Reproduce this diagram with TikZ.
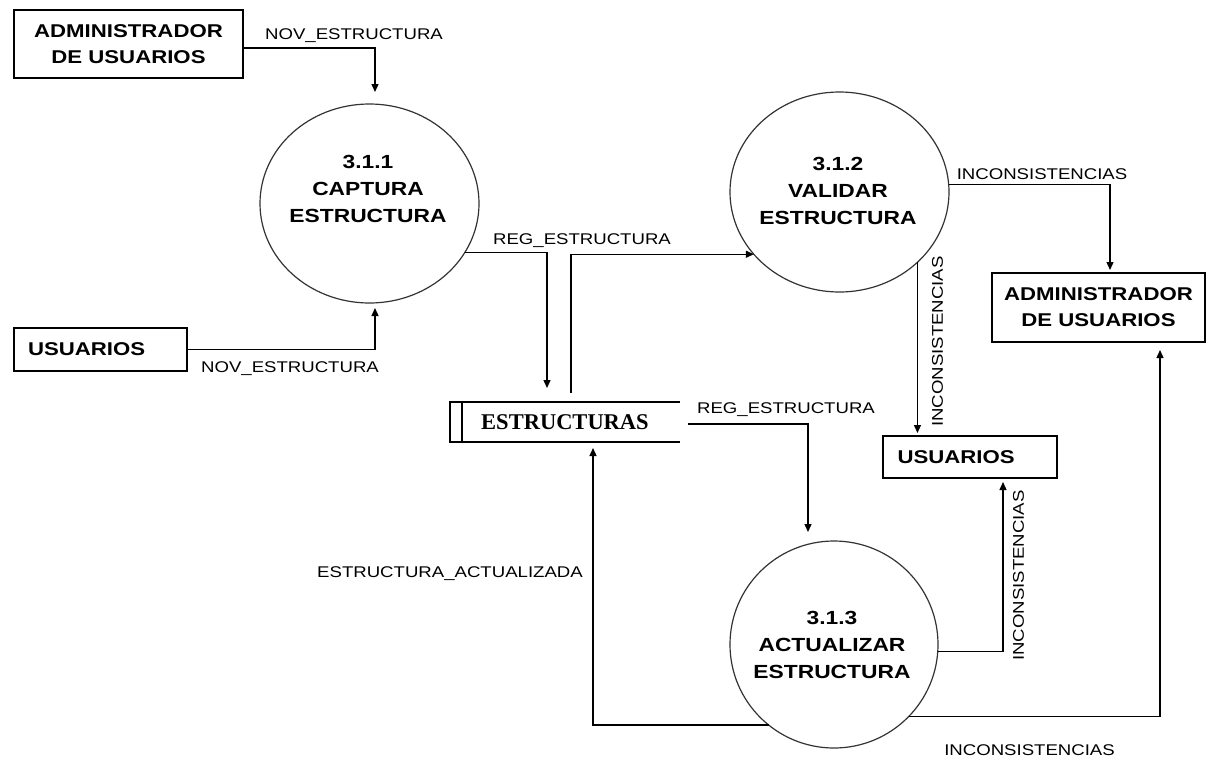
\documentclass[tikz,border=0pt]{standalone}
\usepackage{fontspec}
\setmainfont{Liberation Sans}
\newfontfamily\lblfont[FakeStretch=1.2]{Liberation Sans}
\newfontfamily\storefont{Liberation Serif}
\usetikzlibrary{shapes.geometric,arrows.meta}
\begin{document}
\begin{tikzpicture}[x=1pt,y=-1pt,
  entity/.style={draw, line width=1.4pt, rectangle, inner sep=0pt, outer sep=0pt,
    font=\lblfont\bfseries\fontsize{18.5}{26}\selectfont, align=center},
  proc/.style={draw=black!80, line width=1.2pt, ellipse, inner sep=0pt, outer sep=0pt},
  ptext/.style={font=\lblfont\bfseries\fontsize{19}{27}\selectfont, align=center, inner sep=0pt},
  flow/.style={line width=1.3pt, -{Triangle[length=8pt,width=7pt]}},
  lbl/.style={font=\lblfont\fontsize{15.5}{18}\selectfont, inner sep=0pt, anchor=base}]
\fill[white] (0,0) rectangle (1207,761);
\useasboundingbox (0,0) rectangle (1207,761);

% external entities
\node[entity, minimum width=229pt, minimum height=68pt] (adm1) at (128.5,44) {ADMINISTRADOR\\DE USUARIOS};
\node[entity, minimum width=173pt, minimum height=43pt, text width=145pt, align=left] (usr1) at (100.5,349.5) {USUARIOS};
\node[entity, minimum width=213pt, minimum height=69pt] (adm2) at (1098.5,307.5) {ADMINISTRADOR\\DE USUARIOS};
\node[entity, minimum width=174pt, minimum height=42pt, text width=145pt, align=left] (usr2) at (970,457) {USUARIOS};

% data store
\node[inner sep=0pt, outer sep=0pt, minimum width=230pt, minimum height=40pt,
  font=\storefont\bfseries\fontsize{22.5}{26}\selectfont] (ds) at (565,422) {ESTRUCTURAS};
\draw[line width=1.4pt] (ds.north east) -- (ds.north west) -- (ds.south west) -- (ds.south east);
\draw[line width=1.4pt] ([xshift=12pt]ds.north west) -- ([xshift=12pt]ds.south west);

% processes
\node[proc, minimum width=219pt, minimum height=199pt] (c1) at (369.5,203.5) {};
\node[ptext] (t1) at (368,189) {3.1.1\\CAPTURA\\ESTRUCTURA};
\node[proc, minimum width=219pt, minimum height=200pt] (c2) at (839.5,192) {};
\node[ptext] (t2) at (838,190.5) {3.1.2\\VALIDAR\\ESTRUCTURA};
\node[proc, minimum width=208pt, minimum height=207pt] (c3) at (834,644.5) {};
\node[ptext] (t3) at (832,644.5) {3.1.3\\ACTUALIZAR\\ESTRUCTURA};

% data flows
\draw[flow] ([yshift=-4pt]adm1.east) -| ([xshift=5.5pt,yshift=12pt]c1.north);
\draw[flow] (usr1.east) -| ([xshift=5.5pt,yshift=-5pt]c1.south);
\draw[flow] (c1.-27) -| ([xshift=-18pt,yshift=14pt]ds.north);
\draw[flow] ([xshift=6pt,yshift=9pt]ds.north) |- (c2.216);
\draw[flow] (c2.4) -| ([xshift=11.5pt,yshift=3pt]adm2.north);
\draw[flow, shorten >=3pt] (c2.-42) -- (c2.-42 |- usr2.north);
\draw[flow] ([xshift=8pt,yshift=-2pt]ds.east) -| ([xshift=-26pt,yshift=9pt]c3.north);
\draw[flow] (c3.231) -| ([xshift=28pt,yshift=-6pt]ds.south);
\draw[flow] (c3.-4) -| ([xshift=33pt,yshift=-4pt]usr2.south);
\draw[flow] (c3.-44) -| ([xshift=61.5pt,yshift=-8pt]adm2.south);

% flow labels
\node[lbl] (l1) at (354,39) {NOV\_ESTRUCTURA};
\node[lbl] (l2) at (290,372) {NOV\_ESTRUCTURA};
\node[lbl] (l3) at (582,244) {REG\_ESTRUCTURA};
\node[lbl] (l4) at (786,413) {REG\_ESTRUCTURA};
\node[lbl] (l5) at (1042,179) {INCONSISTENCIAS};
\node[lbl, anchor=center, rotate=90] (l6) at (937.5,341.5) {INCONSISTENCIAS};
\node[lbl, anchor=center, rotate=90] (l7) at (1018.5,575.5) {INCONSISTENCIAS};
\node[lbl] (l8) at (1029.5,755) {INCONSISTENCIAS};
\node[lbl] (l9) at (450,577) {ESTRUCTURA\_ACTUALIZADA};
\end{tikzpicture}
\end{document}
